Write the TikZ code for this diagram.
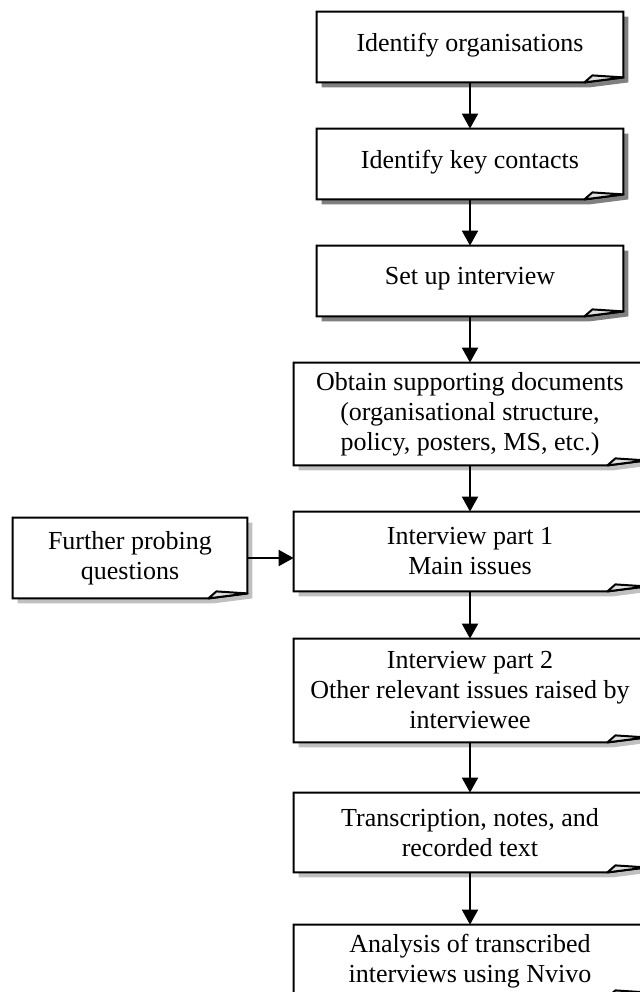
\documentclass[tikz,border=0pt]{standalone}
\usepackage{fontspec}
\setmainfont{Liberation Serif}
\usepackage{tikz}
\usetikzlibrary{arrows.meta,calc,backgrounds}
\definecolor{sombraOsc}{RGB}{128,128,128}
\definecolor{sombraClara}{RGB}{192,192,192}

\begin{document}
\begin{tikzpicture}[
      x=0.5pt, y=-0.5pt,
      paso/.style    = {rectangle, inner sep=0pt, align=center,
          font=\fontsize{13}{15}\selectfont},
      estrecho/.style = {paso, minimum width=153pt, minimum height=35pt},
      ancho/.style   = {paso, minimum width=176pt},
      unalinea/.style = {text depth=5pt},
      flow/.style    = {-{Triangle[length=7.5pt,width=8pt]}, line width=1pt},
      borde/.style   = {line width=1pt, fill=white},
      pliegue/.style = {line width=1pt, fill=gray!25, line join=round},
    ]
    \useasboundingbox (0,0) rectangle (640,992);

    % ── Pasos principales ────────────────────────────────────────
    \node[estrecho,unalinea] (orgs)     at (470,47)    {Identify organisations};
    \node[estrecho,unalinea] (contacts) at (470,164)   {Identify key contacts};
    \node[estrecho,unalinea] (setup)    at (470,281)   {Set up interview};
    \node[ancho,minimum height=51pt]   (docs)  at (470,414)
        {Obtain supporting documents\\(organisational structure,\\policy, posters, MS, etc.)};
    \node[ancho,minimum height=39.5pt] (int1)  at (470,551.5) {Interview part 1\\Main issues};
    \node[ancho,minimum height=51.5pt] (int2)  at (470,690.5)
        {Interview part 2\\Other relevant issues raised by\\interviewee};
    \node[ancho,minimum height=39.5pt] (trans) at (470,832.5) {Transcription, notes, and\\recorded text};
    \node[ancho,minimum height=36pt]   (nvivo) at (470,961)   {Analysis of transcribed\\interviews using Nvivo};

    % ── Paso lateral ─────────────────────────────────────────────
    \node[paso,minimum width=117pt,minimum height=40pt] (probe) at (130,558)
        {Further probing\\questions};

    % ── Sombras y esquinas dobladas ──────────────────────────────
    \begin{scope}[on background layer]
      \foreach \n/\s in {orgs/sombraOsc, contacts/sombraOsc, setup/sombraOsc,
                         docs/sombraClara, int1/sombraClara, int2/sombraClara,
                         trans/sombraClara, nvivo/sombraClara, probe/sombraClara}{
        \fill[\s] ($(\n.north west)+(5,5)$) -- ($(\n.north east)+(5,5)$)
              -- ($(\n.south east)+(5,0)$) -- ($(\n.south east)+(-34,5)$)
              -- ($(\n.south west)+(5,5)$) -- cycle;
        \draw[borde] (\n.north west) -- (\n.north east)
              -- ($(\n.south east)+(0,-5)$) -- ($(\n.south east)+(-39,0)$)
              -- (\n.south west) -- cycle;
        \draw[pliegue] ($(\n.south east)+(-39,0)$) -- ($(\n.south east)+(-31,-7)$)
              -- ($(\n.south east)+(0,-5)$) -- cycle;
      }
    \end{scope}

    % ── Flechas ──────────────────────────────────────────────────
    \draw[flow] (orgs)     -- (contacts);
    \draw[flow] (contacts) -- (setup);
    \draw[flow] (setup)    -- (docs);
    \draw[flow] (docs)     -- (int1);
    \draw[flow] (int1)     -- (int2);
    \draw[flow] (int2)     -- (trans);
    \draw[flow] (trans)    -- (nvivo);
    \draw[flow] (probe.east) -- (probe.east -| int1.west);

  \end{tikzpicture}
\end{document}
